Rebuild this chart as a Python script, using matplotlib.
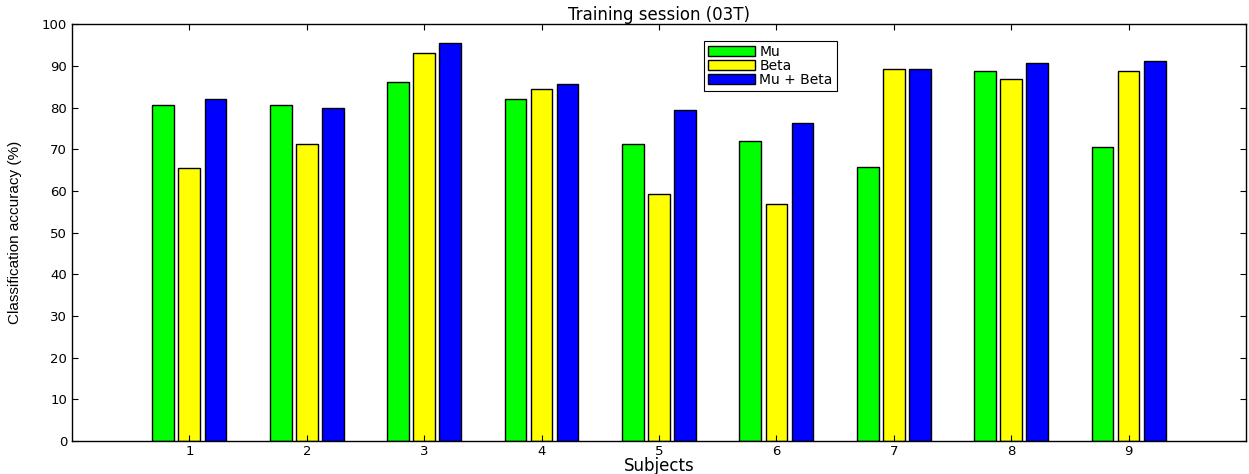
import numpy as np
import matplotlib
matplotlib.use("Agg")
from matplotlib import pyplot as plt
from matplotlib import font_manager

# data
subjects = ['1', '2', '3', '4', '5', '6', '7', '8', '9']
mu = [80.7, 80.7, 86.2, 82.0, 71.3, 71.9, 65.7, 88.7, 70.5]
beta = [65.6, 71.3, 93.2, 84.5, 59.4, 56.9, 89.4, 87.0, 88.7]
mu_beta = [82.0, 80.0, 95.6, 85.7, 79.5, 76.3, 89.4, 90.7, 91.2]

series = [('Mu', mu, '#00ff00'), ('Beta', beta, '#ffff00'), ('Mu + Beta', mu_beta, '#0000ff')]

# text in the picture looks wide, so a wide font for horizontal text
plt.rcParams['font.family'] = ['DejaVu Sans']
names = set(f.name for f in font_manager.fontManager.ttflist)
narrow = 'Liberation Sans Narrow' if 'Liberation Sans Narrow' in names else 'Liberation Sans'

fig = plt.figure(figsize=(12.49, 4.74), dpi=100)
ax = fig.add_axes([0.0576, 0.0696, 0.94, 0.879])

x = np.arange(1, len(subjects) + 1)
width = 0.185
offset = 0.222
for k, (name, vals, col) in enumerate(series):
    ax.bar(x + (k - 1) * offset, vals, width, color=col, edgecolor='black',
           linewidth=1.0, label=name)

ax.set_xlim(0, 10)
ax.set_ylim(0, 100)
ax.set_xticks(x)
ax.set_xticklabels(subjects)
ax.set_yticks(np.arange(0, 101, 10))
ax.tick_params(direction='in', top=True, right=True, labelsize=9.5, length=4, width=0.8)
ax.tick_params(axis='x', pad=3)
for s in ax.spines.values():
    s.set_linewidth(1.0)

ax.set_title('Training session (03T)', fontsize=12, pad=3)
ax.set_xlabel('Subjects', fontsize=12, labelpad=-1)
ax.set_ylabel('Classification accuracy (%)', fontsize=11, family=narrow, labelpad=14)

leg = ax.legend(loc='upper left', bbox_to_anchor=(0.538, 0.96), fontsize=10,
                frameon=True, fancybox=False, edgecolor='black', handlelength=3.4,
                handleheight=0.75, borderpad=0.3, labelspacing=0.0, handletextpad=0.3,
                borderaxespad=0, framealpha=1)
leg.get_frame().set_linewidth(0.8)

fig.savefig('out.png', dpi=100)
